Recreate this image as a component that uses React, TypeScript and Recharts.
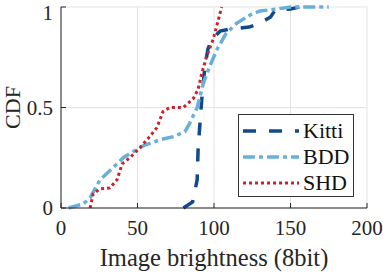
import React from "react";
import {
  LineChart,
  Line,
  XAxis,
  YAxis,
  CartesianGrid,
  Label,
} from "recharts";

// brightness (8bit) vs CDF
const kittiX = [80, 86, 89, 89.6, 91, 92, 94, 96, 98.5, 104, 110, 123, 130, 137, 140, 150, 156];
const kittiY = [0, 0.03, 0.14, 0.29, 0.44, 0.54, 0.7, 0.79, 0.84, 0.88, 0.89, 0.9, 0.92, 0.95, 0.985, 0.99, 1];

const bddX = [5, 14.5, 19, 25.5, 34, 40.7, 47, 54, 65, 73.5, 81, 84, 89, 93, 97, 102, 108, 115, 123.5, 130, 141, 150, 175];
const bddY = [0, 0.02, 0.05, 0.14, 0.2, 0.25, 0.28, 0.31, 0.34, 0.355, 0.38, 0.42, 0.5, 0.62, 0.7, 0.79, 0.87, 0.92, 0.96, 0.98, 0.99, 1, 1];

const shdX = [19, 21, 25.5, 32, 36.6, 40, 45, 51.6, 58, 62.7, 66.7, 71, 80, 86.5, 89.6, 92, 95, 99.5, 102.8, 105];
const shdY = [0, 0.07, 0.095, 0.1, 0.14, 0.22, 0.25, 0.3, 0.355, 0.4, 0.48, 0.5, 0.5, 0.545, 0.59, 0.67, 0.75, 0.84, 0.935, 1];

const xTicks = [0, 50, 100, 150, 200];
const yTicks = [0, 0.5, 1];

const toPoints = (xs: number[], ys: number[]) => xs.map((x, i) => ({ x, y: ys[i] }));

const series = [
  { name: "Kitti", data: toPoints(kittiX, kittiY), color: "#12498a", dash: "13 13", width: 3.5 },
  { name: "BDD", data: toPoints(bddX, bddY), color: "#6aafd9", dash: "12 4 4 4", width: 3.5 },
  { name: "SHD", data: toPoints(shdX, shdY), color: "#c8232f", dash: "3 3", width: 3 },
];

const FONT = "Liberation Serif";

const LegendBox = () => (
  <div
    style={{
      position: "absolute",
      left: 238,
      top: 114,
      width: 116,
      height: 83,
      border: "1px solid #333",
      background: "#fff",
      boxSizing: "border-box",
      fontFamily: FONT,
      fontSize: 22,
      color: "#111",
    }}
  >
    {series.map((s) => (
      <div key={s.name} style={{ display: "flex", alignItems: "center", height: 26, marginTop: s.name === "Kitti" ? 3 : 0 }}>
        <svg width={60} height={10} style={{ marginLeft: 4 }}>
          <line x1={0} y1={5} x2={56} y2={5} stroke={s.color} strokeWidth={s.width} strokeDasharray={s.dash} />
        </svg>
        <span style={{ lineHeight: "26px" }}>{s.name}</span>
      </div>
    ))}
  </div>
);

export default function App() {
  return (
    <div style={{ position: "absolute", left: 0, top: 0, width: 383, height: 273, background: "#fff", fontFamily: FONT }}>
      <LineChart width={383} height={273} margin={{ top: 7, right: 16, left: 0, bottom: 0 }} style={{ fontFamily: FONT }}>
        <CartesianGrid stroke="#e3e3e3" strokeWidth={1} horizontalValues={yTicks} verticalValues={xTicks} />
        <XAxis
          type="number"
          dataKey="x"
          domain={[0, 200]}
          ticks={xTicks}
          height={65}
          axisLine={{ stroke: "#262626" }}
          tickLine={{ stroke: "#262626" }}
          tickSize={-5}
          tickMargin={17}
          tick={{ fontFamily: FONT, fontSize: 21, fill: "#262626" }}
          allowDataOverflow
        >
          <Label
            value="Image brightness (8bit)"
            position="insideBottom"
            offset={7}
            style={{ fontFamily: FONT, fontSize: 24.5, fill: "#262626" }}
          />
        </XAxis>
        <XAxis xAxisId="top" orientation="top" type="number" domain={[0, 200]} height={0} tick={false} axisLine={{ stroke: "#8c8c8c", strokeWidth: 1.5 }} />
        <YAxis
          type="number"
          domain={[0, 1]}
          ticks={yTicks}
          width={61}
          axisLine={{ stroke: "#262626" }}
          tickLine={{ stroke: "#262626" }}
          tickSize={-5}
          tickMargin={13}
          tick={{ fontFamily: FONT, fontSize: 21, fill: "#262626" }}
          tickFormatter={(v: number) => String(v)}
        >
          <Label
            content={({ viewBox }: any) => {
              const cx = 12;
              const cy = viewBox.y + viewBox.height / 2;
              return (
                <text
                  x={cx}
                  y={cy}
                  transform={`rotate(-90 ${cx} ${cy})`}
                  textAnchor="middle"
                  dominantBaseline="central"
                  style={{ fontFamily: FONT, fontSize: 22, fill: "#262626" }}
                >
                  CDF
                </text>
              );
            }}
          />
        </YAxis>
        <YAxis yAxisId="right" orientation="right" type="number" domain={[0, 1]} width={0} tick={false} axisLine={{ stroke: "#262626" }} />
        {series.map((s) => (
          <Line
            key={s.name}
            data={s.data}
            dataKey="y"
            name={s.name}
            type="linear"
            stroke={s.color}
            strokeWidth={s.width}
            strokeDasharray={s.dash}
            dot={false}
            isAnimationActive={false}
          />
        ))}
      </LineChart>
      <LegendBox />
    </div>
  );
}
